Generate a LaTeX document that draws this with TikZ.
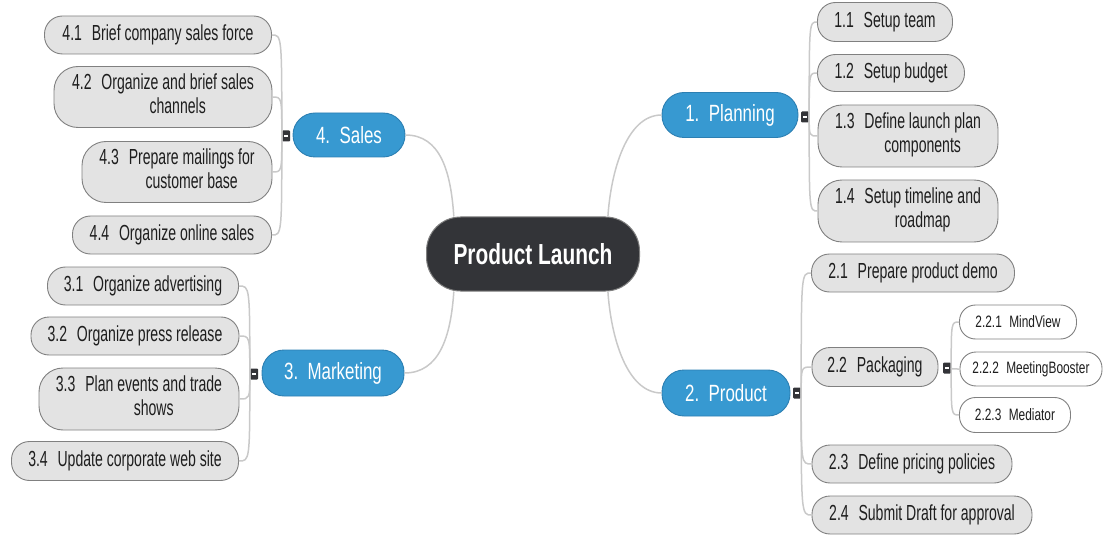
\documentclass[tikz,border=0pt]{standalone}
\usepackage{fontspec}
\setmainfont{Liberation Sans}[FakeStretch=0.72]
\newfontfamily\leaffont{Liberation Sans}[FakeStretch=0.645]
\usetikzlibrary{calc}
\definecolor{lnk}{HTML}{C9C9C9}
\definecolor{cfill}{HTML}{E3E3E3}
\definecolor{cdraw}{HTML}{808080}
\definecolor{bfill}{HTML}{3799D1}
\definecolor{bdraw}{HTML}{2C7FB2}
\definecolor{dfill}{HTML}{333438}
\definecolor{txt}{HTML}{1E1E1E}
\newcommand\twol[3]{#1\hspace{0.45em}\begin{tabular}[t]{@{}c@{}}#2\\#3\end{tabular}}
\begin{document}
\begin{tikzpicture}[x=1pt,y=-1pt,
  leaf/.style={draw=cdraw, fill=cfill, line width=0.9pt, rounded corners=18pt, inner sep=0pt,
    text=txt, font=\leaffont\fontsize{21.8}{23.5}\selectfont, align=center},
  leaftwo/.style={leaf, rounded corners=24pt},
  subleaf/.style={draw=cdraw, fill=white, line width=0.9pt, rounded corners=16pt, inner sep=0pt,
    text=txt, font=\fontsize{16.5}{20}\selectfont},
  branch/.style={draw=bdraw, fill=bfill, line width=0.9pt, rounded corners=22pt, inner sep=0pt,
    text=white, font=\fontsize{23.5}{27}\selectfont},
  root/.style={draw=cdraw, fill=dfill, line width=1pt, rounded corners=34pt, inner sep=0pt,
    text=white, font=\fontsize{29}{34}\selectfont\bfseries},
  marker/.style={fill=dfill, minimum width=8pt, minimum height=11pt, inner sep=0pt, rounded corners=1pt},
  link/.style={draw=lnk, line width=1.5pt}
]
\useasboundingbox (0,0) rectangle (1103,540);

% root
\node[root, minimum width=213pt, minimum height=74pt] (c) at (533,254) {Product Launch};

% branches
\node[branch, minimum width=136pt, minimum height=45pt] (P) at (730,115) {1.\hspace{0.4em}Planning};
\node[branch, minimum width=128pt, minimum height=46pt] (D) at (726,393) {2.\hspace{0.4em}Product};
\node[branch, minimum width=142pt, minimum height=46pt] (M) at (333,373) {3.\hspace{0.4em}Marketing};
\node[branch, minimum width=112pt, minimum height=44pt] (S) at (349,135) {4.\hspace{0.4em}Sales};

% markers
\node[marker] (pm) at (805,117) {\textcolor{white}{\rule{3.5pt}{1.3pt}}};
\node[marker] (dm) at (797,393) {\textcolor{white}{\rule{3.5pt}{1.3pt}}};
\node[marker] (d2m) at (947,368) {\textcolor{white}{\rule{3.5pt}{1.3pt}}};
\node[marker] (mm) at (254,374) {\textcolor{white}{\rule{3.5pt}{1.3pt}}};
\node[marker] (sm) at (286,136) {\textcolor{white}{\rule{3.5pt}{1.3pt}}};

% planning leaves
\node[leaf, minimum width=135pt, minimum height=39pt] (p1) at (885,22) {1.1\hspace{0.45em}Setup team};
\node[leaf, minimum width=147pt, minimum height=37pt] (p2) at (891,73) {1.2\hspace{0.45em}Setup budget};
\node[leaftwo, minimum width=180pt, minimum height=62pt] (p3) at (908,136) {\twol{1.3}{Define launch plan}{components}};
\node[leaftwo, minimum width=180pt, minimum height=62pt] (p4) at (908,211) {\twol{1.4}{Setup timeline and}{roadmap}};

% product leaves
\node[leaf, minimum width=203pt, minimum height=38pt] (d1) at (913,273) {2.1\hspace{0.45em}Prepare product demo};
\node[leaf, minimum width=126pt, minimum height=39pt] (d2) at (875,367) {2.2\hspace{0.45em}Packaging};
\node[leaf, minimum width=200pt, minimum height=38pt] (d3) at (912,464) {2.3\hspace{0.45em}Define pricing policies};
\node[leaf, minimum width=220pt, minimum height=38pt] (d4) at (922,515) {2.4\hspace{0.45em}Submit Draft for approval};
\node[subleaf, minimum width=117pt, minimum height=34pt] (d21) at (1018,322) {2.2.1\hspace{0.45em}MindView};
\node[subleaf, minimum width=142pt, minimum height=34pt] (d22) at (1031,369) {2.2.2\hspace{0.45em}MeetingBooster};
\node[subleaf, minimum width=111pt, minimum height=35pt] (d23) at (1015,415) {2.2.3\hspace{0.45em}Mediator};

% marketing leaves
\node[leaf, minimum width=191pt, minimum height=38pt] (m1) at (143,286) {3.1\hspace{0.45em}Organize advertising};
\node[leaf, minimum width=208pt, minimum height=38pt] (m2) at (135,336) {3.2\hspace{0.45em}Organize press release};
\node[leaftwo, minimum width=200pt, minimum height=62pt] (m3) at (139,399) {\twol{3.3}{Plan events and trade}{shows}};
\node[leaf, minimum width=227pt, minimum height=39pt] (m4) at (125,461) {3.4\hspace{0.45em}Update corporate web site};

% sales leaves
\node[leaf, minimum width=227pt, minimum height=38pt] (s1) at (158,35) {4.1\hspace{0.45em}Brief company sales force};
\node[leaftwo, minimum width=218pt, minimum height=61pt] (s2) at (163,97) {\twol{4.2}{Organize and brief sales}{channels}};
\node[leaftwo, minimum width=190pt, minimum height=61pt] (s3) at (177,172) {\twol{4.3}{Prepare mailings for}{customer base}};
\node[leaf, minimum width=199pt, minimum height=38pt] (s4) at (172,235) {4.4\hspace{0.45em}Organize online sales};

% root connectors
\coordinate (ctl) at ($(c.north west)!0.13!(c.north east)$);
\coordinate (ctr) at ($(c.north west)!0.85!(c.north east)$);
\coordinate (cbl) at ($(c.south west)!0.13!(c.south east)$);
\coordinate (cbr) at ($(c.south west)!0.85!(c.south east)$);
\draw[link] (ctl) .. controls +(-3,-45) and +(35,0) .. (S.east);
\draw[link] (ctr) .. controls +(3,-45) and +(-35,0) .. (P.west);
\draw[link] (cbl) .. controls +(-3,45) and +(35,0) .. (M.east);
\draw[link] (cbr) .. controls +(3,45) and +(-35,0) .. (D.west);

% leaf connectors (right side)
\foreach \k in {p1,p2,p3,p4}
  \draw[link] (pm.east) .. controls (pm.east |- \k.west) .. (\k.west);
\foreach \k in {d1,d2,d3,d4}
  \draw[link] (dm.east) .. controls (dm.east |- \k.west) .. (\k.west);
\foreach \k in {d21,d22,d23}
  \draw[link] (d2m.east) .. controls (d2m.east |- \k.west) .. (\k.west);
% leaf connectors (left side)
\foreach \k in {m1,m2,m3,m4}
  \draw[link] (mm.west) .. controls (mm.west |- \k.east) .. (\k.east);
\foreach \k in {s1,s2,s3,s4}
  \draw[link] (sm.west) .. controls (sm.west |- \k.east) .. (\k.east);
\end{tikzpicture}
\end{document}
